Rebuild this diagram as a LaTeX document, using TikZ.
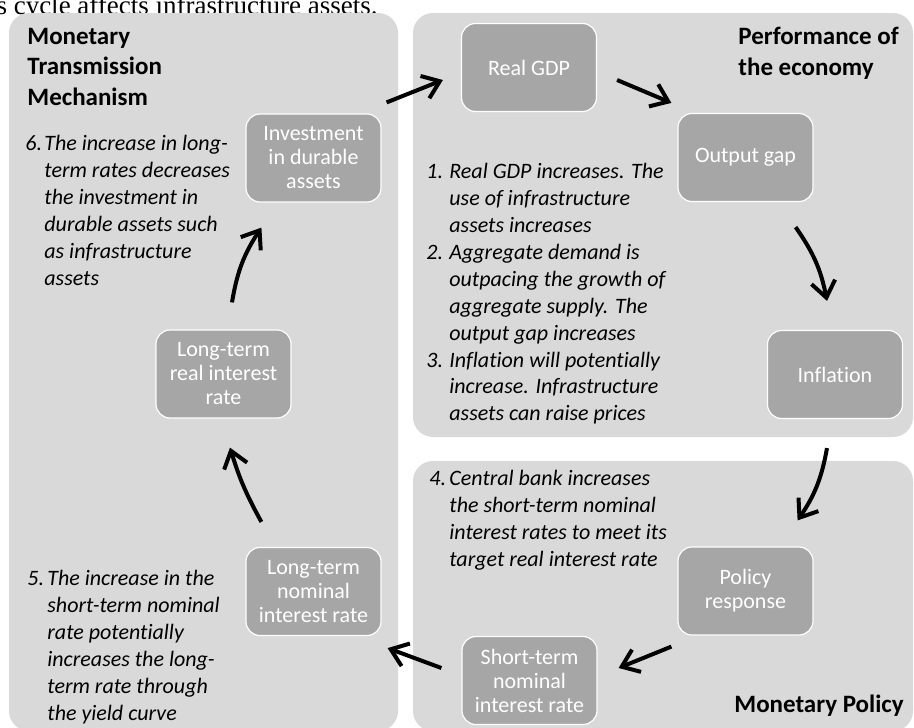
\documentclass[tikz,border=0pt]{standalone}
\usepackage{fontspec}
\setmainfont{Carlito}[Ligatures=CommonOff]
\newfontfamily\captionserif{Liberation Serif}
\usetikzlibrary{arrows.meta, calc}
\definecolor{panel}{RGB}{217, 217, 217}
\definecolor{stagefill}{RGB}{166, 166, 166}
\newcommand{\notefont}{\fontsize{22}{27}\selectfont\itshape}
\newcommand{\boxfont}{\fontsize{22}{24}\selectfont}
\newcommand{\headfont}{\fontsize{25}{31}\selectfont\bfseries}
\newcommand{\drawpanel}[4]{
  \fill[panel, rounded corners=20pt] (#1, #2) rectangle (#3, #4);
}
\newcommand{\steptext}[3]{\begin{tabular}[t]{@{}p{#1pt}@{}l@{}}#2 & #3\end{tabular}}

\begin{document}
\begin{tikzpicture}[x=1pt, y=-1pt, thick,
  stage/.style={fill=stagefill, draw=white, line width=1.2pt, rounded corners=14pt,
                minimum width=135pt, minimum height=88pt, inner sep=0pt,
                align=center, text=white, font=\boxfont},
  flow/.style={line width=4pt, -{Straight Barb[length=16pt, width=24pt]}},
  note/.style={font=\notefont, anchor=base west, inner sep=0pt},
  head/.style={font=\headfont, anchor=base west, inner sep=0pt}]

  \useasboundingbox (0, 0) rectangle (914, 728);

  \node[font=\captionserif\fontsize{27}{29}\selectfont, anchor=base east, inner sep=0pt]
    (caption) at (378, 15) {is cycle affects infrastructure assets.};

  \drawpanel{9}{13}{398}{731}
  \drawpanel{413}{13}{913}{437}
  \drawpanel{413}{461}{913}{731}

  \foreach \name/\x/\y/\txt in {inv/313.5/158/{Investment\\in durable\\assets},
                                gdp/529/67.5/{Real GDP}, gap/745.5/157.5/{Output gap},
                                infl/835/374.5/{Inflation}, pol/745.5/591/{Policy\\response},
                                short/529.5/680.5/{Short-term\\nominal\\interest rate},
                                lnom/313.5/591.5/{Long-term\\nominal\\interest rate},
                                lreal/223.5/374/{Long-term\\real interest\\rate}} {
    \node[stage] (\name) at (\x, \y) {\txt};
  }

  \node[head] (mtm) at (27, 44) {\begin{tabular}[t]{@{}l@{}}Monetary\\Transmission\\Mechanism\end{tabular}};
  \node[head] (perf) at (738, 45) {\begin{tabular}[t]{@{}l@{}}Performance of\\the economy\end{tabular}};
  \node[head] (mp) at (734, 712) {Monetary Policy};

  \node[note] (n6) at (25, 150) {\steptext{19}{6.}{The increase in long-\\ & term rates decreases\\ & the investment in\\
                                 & durable assets such\\ & as infrastructure\\ & assets}};
  \node[note] (n1) at (426, 178) {\steptext{23}{1.}{Real GDP increases. The\\ & use of infrastructure\\ & assets increases\\
                                  2. & Aggregate demand is\\ & outpacing the growth of\\ & aggregate supply. The\\ & output gap increases\\
                                  3. & Inflation will potentially\\ & increase. Infrastructure\\ & assets can raise prices}};
  \node[note] (n4) at (429, 485) {\steptext{20}{4.}{Central bank increases\\ & the short-term nominal\\
                                  & interest rates to meet its\\ & target real interest rate}};
  \node[note] (n5) at (27, 585) {\steptext{20}{5.}{The increase in the\\ & short-term nominal\\ & rate potentially\\
                                 & increases the long-\\ & term rate through\\ & the yield curve}};

  \draw[flow] ([shift={(5,-11)}]inv.north east) -- ([shift={(-18,12.5)}]gdp.west);
  \draw[flow] ([shift={(20,12.5)}]gdp.east) -- ([shift={(-6,-10)}]gap.north west);
  \draw[flow] ([shift={(-18,25)}]gap.south east) to[bend left=12] ([shift={(-8,-29)}]infl.north);
  \draw[flow] ([shift={(-8,29)}]infl.south) to[bend left=12] ([shift={(-16,-26)}]pol.north east);
  \draw[flow] ([shift={(-6,11)}]pol.south west) -- ([shift={(21,-12.5)}]short.east);
  \draw[flow] ([shift={(-20,-12.5)}]short.west) -- ([shift={(6,12)}]lnom.south east);
  \draw[flow] ([shift={(16,-25)}]lnom.north west) to[bend left=6] ([shift={(6.5,29)}]lreal.south);
  \draw[flow] ([shift={(8.5,-27)}]lreal.north) to[bend left=12] ([shift={(16,25)}]inv.south west);

\end{tikzpicture}
\end{document}
